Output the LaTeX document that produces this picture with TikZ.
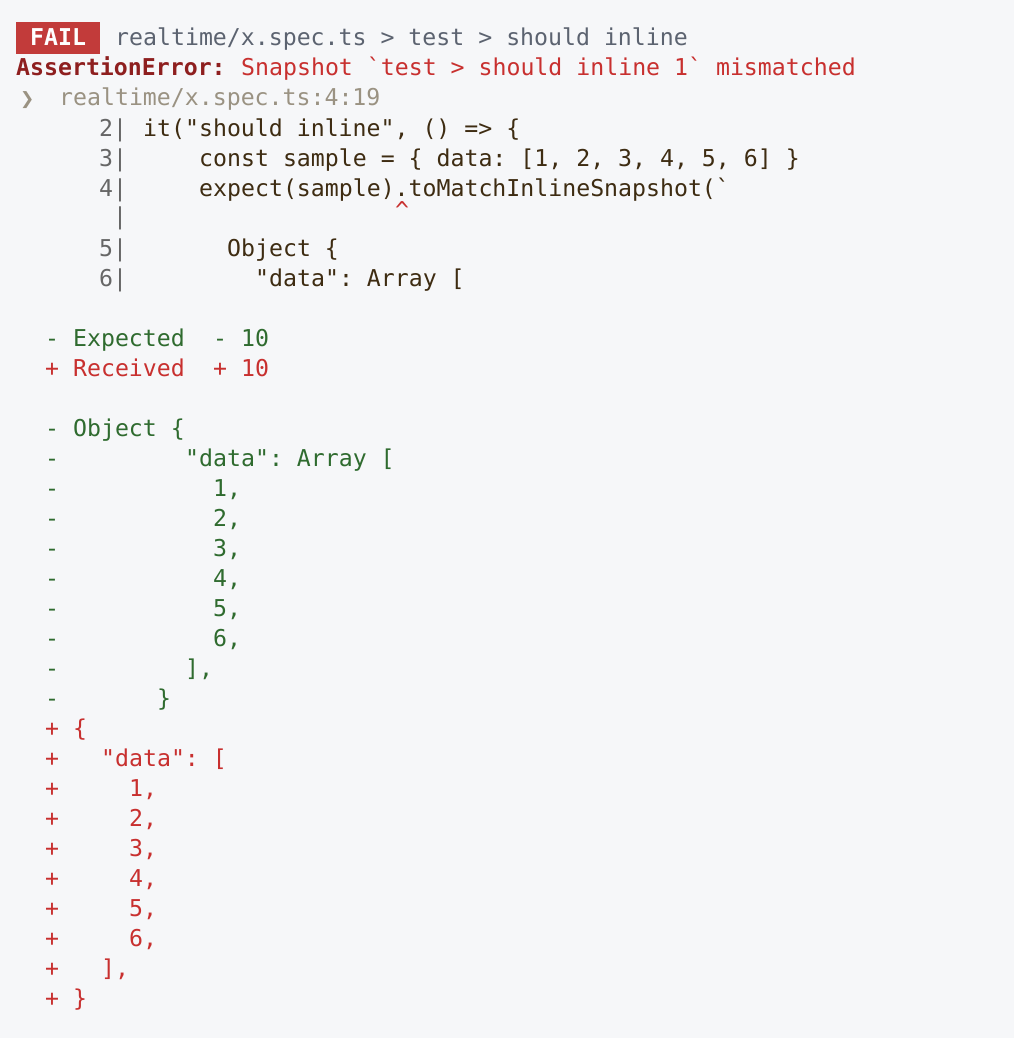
\documentclass[tikz,border=0pt]{standalone}
\usepackage{fontspec}
\setmonofont{DejaVu Sans Mono}
\newfontfamily\symf{DejaVu Sans}
\definecolor{bg}{HTML}{F6F7F9}
\definecolor{failbg}{HTML}{C23B3A}
\definecolor{pathc}{HTML}{5C6370}
\definecolor{darkred}{HTML}{8E1F1F}
\definecolor{red}{HTML}{C8302F}
\definecolor{loc}{HTML}{9A9282}
\definecolor{code}{HTML}{3E2C12}
\definecolor{num}{HTML}{666666}
\definecolor{grn}{HTML}{2F6B2F}
\tikzset{t/.style={anchor=base west,inner sep=0,font=\ttfamily\fontsize{23.2}{30}\selectfont},
 g/.style={t,text=grn}, r/.style={t,text=red}, c/.style={t,text=code}, n/.style={t,text=num}}
\begin{document}
\begin{tikzpicture}[x=1pt,y=-1pt]
\fill[bg] (0,0) rectangle (1014,1038);
\useasboundingbox (0,0) rectangle (1014,1038);
\fill[failbg] (16,22) rectangle (100,54);
\node[t,text=white,font=\ttfamily\bfseries\fontsize{23.2}{30}\selectfont] (fail) at (30,46) {FAIL};
\node[t,text=pathc] (path) at (115,46) {realtime/x.spec.ts > test > should inline};
\node[t,text=darkred,font=\ttfamily\bfseries\fontsize{23.2}{30}\selectfont] (ae) at (16,76) {AssertionError:};
\node[r] (msg) at (241,76) {Snapshot `test > should inline 1` mismatched};
\node[t,text=loc,font=\symf\fontsize{17}{20}\selectfont] (arr) at (20,105) {❯};
\node[t,text=loc] (loc) at (59,106) {realtime/x.spec.ts:4:19};
\node[n] (n2) at (99,136) {2|};
\node[c] (c2) at (143,136) {it("should inline", () => \{};
\node[n] (n3) at (99,166) {3|};
\node[c] (c3) at (199,166) {const sample = \{ data: [1, 2, 3, 4, 5, 6] \}};
\node[n] (n4) at (99,196) {4|};
\node[c] (c4) at (199,196) {expect(sample).toMatchInlineSnapshot(`};
\node[n] (nb) at (113,224) {|};
\node[r] (car) at (395,218) {\textasciicircum};
\node[n] (n5) at (99,256) {5|};
\node[c] (c5) at (227,256) {Object \{};
\node[n] (n6) at (99,286) {6|};
\node[c] (c6) at (255,286) {"data": Array [};
\node[g] (e1) at (45,346) {- Expected};
\node[g] (e2) at (213,346) {- 10};
\node[r] (r1) at (45,376) {+ Received};
\node[r] (r2) at (213,376) {+ 10};
\node[g] (d0) at (45,436) {- Object \{};
\foreach \i/\x/\s in {1/185/{"data": Array [},2/213/{1,},3/213/{2,},4/213/{3,},5/213/{4,},6/213/{5,},7/213/{6,},8/185/{],},9/157/{\}}}{
 \node[g] (dm\i) at (45,436+30*\i) {-};
 \node[g] (dt\i) at (\x,436+30*\i) {\s};
}
\node[r] (p0) at (45,736) {+ \{};
\foreach \i/\x/\s in {1/101/{"data": [},2/129/{1,},3/129/{2,},4/129/{3,},5/129/{4,},6/129/{5,},7/129/{6,},8/101/{],},9/73/{\}}}{
 \node[r] (pm\i) at (45,736+30*\i) {+};
 \node[r] (pt\i) at (\x,736+30*\i) {\s};
}
\end{tikzpicture}
\end{document}
